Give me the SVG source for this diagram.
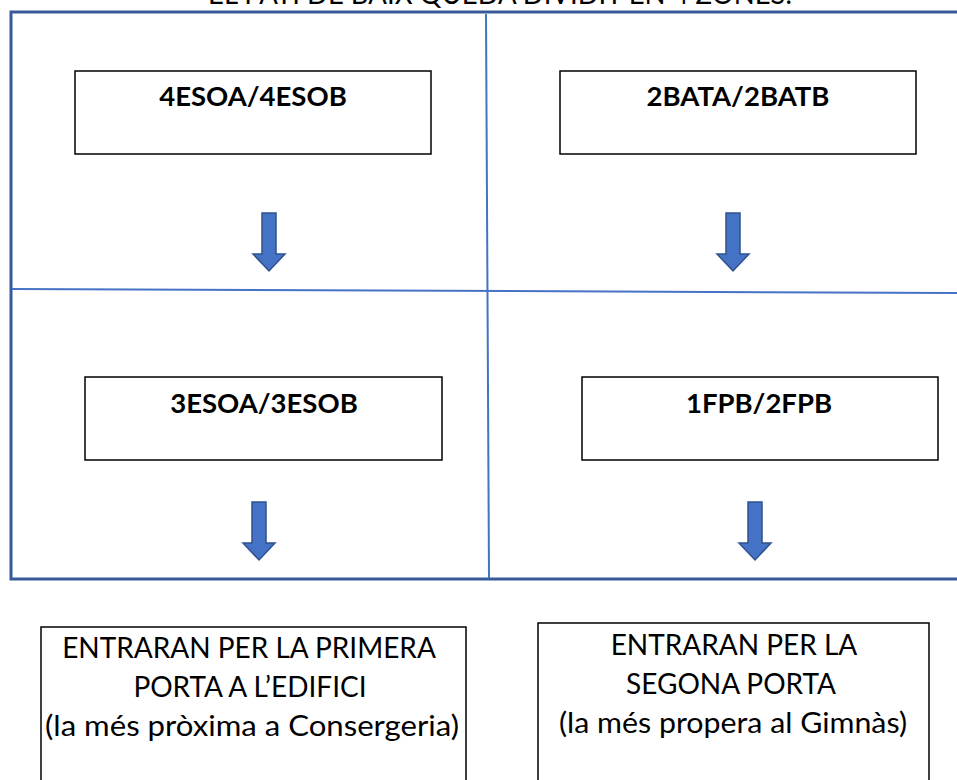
<svg xmlns="http://www.w3.org/2000/svg" width="957" height="780" viewBox="0 0 957 780">
<defs>
<style>
.box{fill:#fff;stroke:#000;stroke-width:1.5}
.lbl{font-family:Lato,"Noto Sans",sans-serif;font-weight:bold;font-size:27.5px;fill:#000;text-anchor:middle}
.txt{font-family:Lato,"Noto Sans",sans-serif;font-size:28px;fill:#000;text-anchor:middle}
.arrow{fill:#4472C4;stroke:#2F528F;stroke-width:1.5}
.frame{fill:none;stroke:#365A9A;stroke-width:3}
.div{fill:none;stroke:#4472C4;stroke-width:2}
</style>
<path id="arr" class="arrow" d="M-7,0 H7 V41 H16 L0,58 L-16,41 H-7 Z"/>
</defs>
<rect width="957" height="780" fill="#fff"/>
<text class="txt" x="500" y="4" textLength="584" lengthAdjust="spacingAndGlyphs">EL PATI DE BAIX QUEDA DIVIDIT EN 4 ZONES.</text>
<g id="frame">
<path class="frame" d="M960,12 H11 V579 H960"/>
<path class="div" d="M486,14 L489,578"/>
<path class="div" d="M12,289 L957,293"/>
</g>
<g id="n4eso"><rect class="box" x="75" y="71" width="356" height="83"/><text class="lbl" x="253" y="106">4ESOA/4ESOB</text></g>
<g id="n2bat"><rect class="box" x="560" y="71" width="356" height="83"/><text class="lbl" x="738" y="106">2BATA/2BATB</text></g>
<g id="n3eso"><rect class="box" x="85" y="377" width="357" height="83"/><text class="lbl" x="264" y="413">3ESOA/3ESOB</text></g>
<g id="nfpb"><rect class="box" x="582" y="377" width="356" height="83"/><text class="lbl" x="759" y="413">1FPB/2FPB</text></g>
<g id="connectors">
<use href="#arr" x="269" y="213"/>
<use href="#arr" x="733" y="213"/>
<use href="#arr" x="259" y="502"/>
<use href="#arr" x="755" y="502"/>
</g>
<g id="door1"><rect class="box" x="41" y="627" width="425" height="170"/>
<text class="txt" x="249" y="658">ENTRARAN PER LA PRIMERA</text>
<text class="txt" x="250" y="697">PORTA A L’EDIFICI</text>
<text class="txt" x="252" y="736" textLength="414" lengthAdjust="spacingAndGlyphs">(la més pròxima a Consergeria)</text></g>
<g id="door2"><rect class="box" x="538" y="623" width="391" height="170"/>
<text class="txt" x="734" y="655">ENTRARAN PER LA</text>
<text class="txt" x="731" y="694">SEGONA PORTA</text>
<text class="txt" x="733" y="733" textLength="348" lengthAdjust="spacingAndGlyphs">(la més propera al Gimnàs)</text></g>
</svg>
